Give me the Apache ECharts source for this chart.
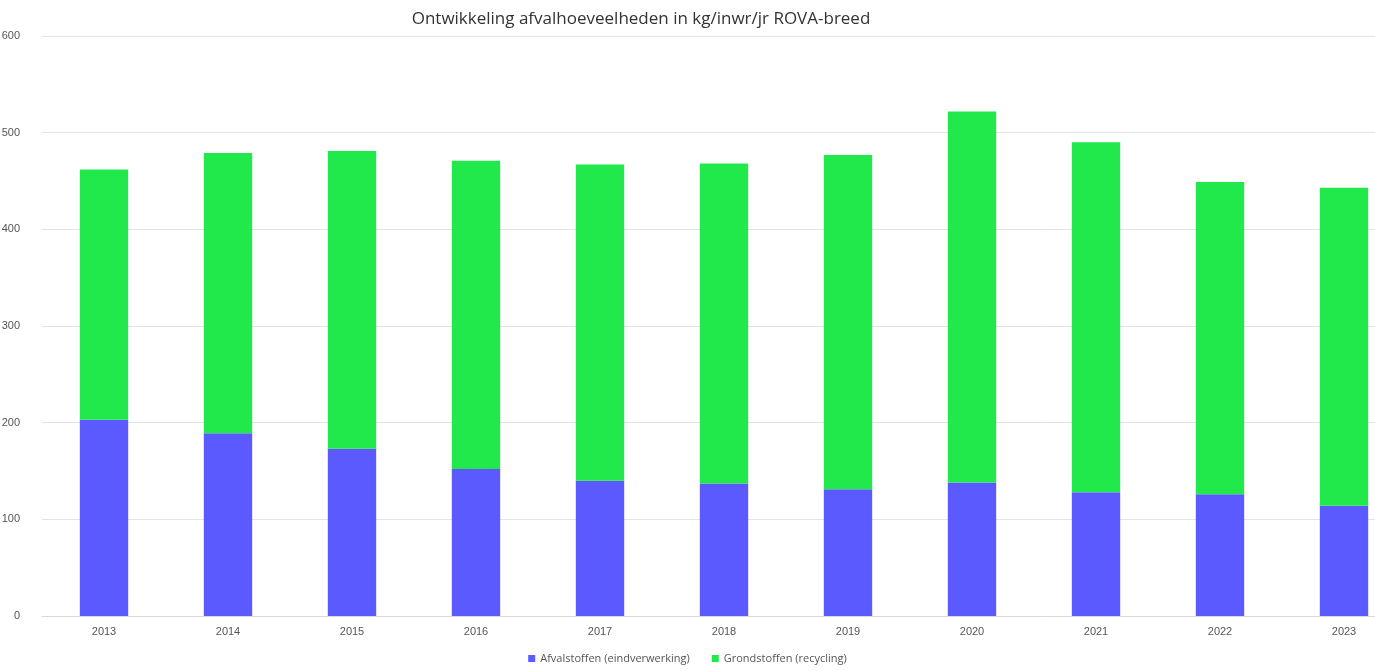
<!DOCTYPE html>
<html style="height: 100%">
<head>
<meta charset="utf-8">
<script src="https://cdn.jsdelivr.net/npm/echarts@6/dist/echarts.min.js"></script>
</head>
<body style="height: 100%; margin: 0; background: #fff; overflow: hidden">
<div id="container" style="height: 100%"></div>
<script>
var years = ['2013','2014','2015','2016','2017','2018','2019','2020','2021','2022','2023'];
var afvalstoffen = [203, 189, 173, 152, 140, 137, 131, 138, 128, 126, 114];
var totaal = [462, 479, 481, 471, 467, 468, 477, 522, 490, 449, 443];
var grondstoffen = totaal.map(function (t, i) { return t - afvalstoffen[i]; });

var myChart = echarts.init(document.getElementById('container'));
var option = {
  animation: false,
  title: {
    text: 'Ontwikkeling afvalhoeveelheden in kg/inwr/jr ROVA-breed',
    left: 636, top: 6, textAlign: 'center',
    textStyle: { fontFamily: 'Open Sans', fontWeight: 'normal', fontSize: 17, color: '#333' }
  },
  legend: {
    bottom: 2, left: 'center', itemWidth: 7, itemHeight: 7, icon: 'rect', itemGap: 22,
    textStyle: { fontFamily: 'Open Sans', fontSize: 11, color: '#555' }
  },
  grid: { left: 42, width: 1364, top: 36, bottom: 55, outerBoundsMode: 'none' },
  xAxis: {
    type: 'category', data: years,
    axisLine: { lineStyle: { color: '#d9d9d9' } }, axisTick: { show: false },
    axisLabel: { color: '#555', fontSize: 11, margin: 10 }
  },
  yAxis: {
    type: 'value', min: 0, max: 600, interval: 100,
    axisLabel: { color: '#555', fontSize: 11, margin: 22 },
    splitLine: { lineStyle: { color: '#e3e3e3' } }
  },
  series: [
    { name: 'Afvalstoffen (eindverwerking)', type: 'bar', stack: 't', data: afvalstoffen,
      barWidth: '39%', itemStyle: { color: '#5a5aff' } },
    { name: 'Grondstoffen (recycling)', type: 'bar', stack: 't', data: grondstoffen,
      itemStyle: { color: '#22e94b' } }
  ]
};
myChart.setOption(option);
</script>
</body>
</html>
